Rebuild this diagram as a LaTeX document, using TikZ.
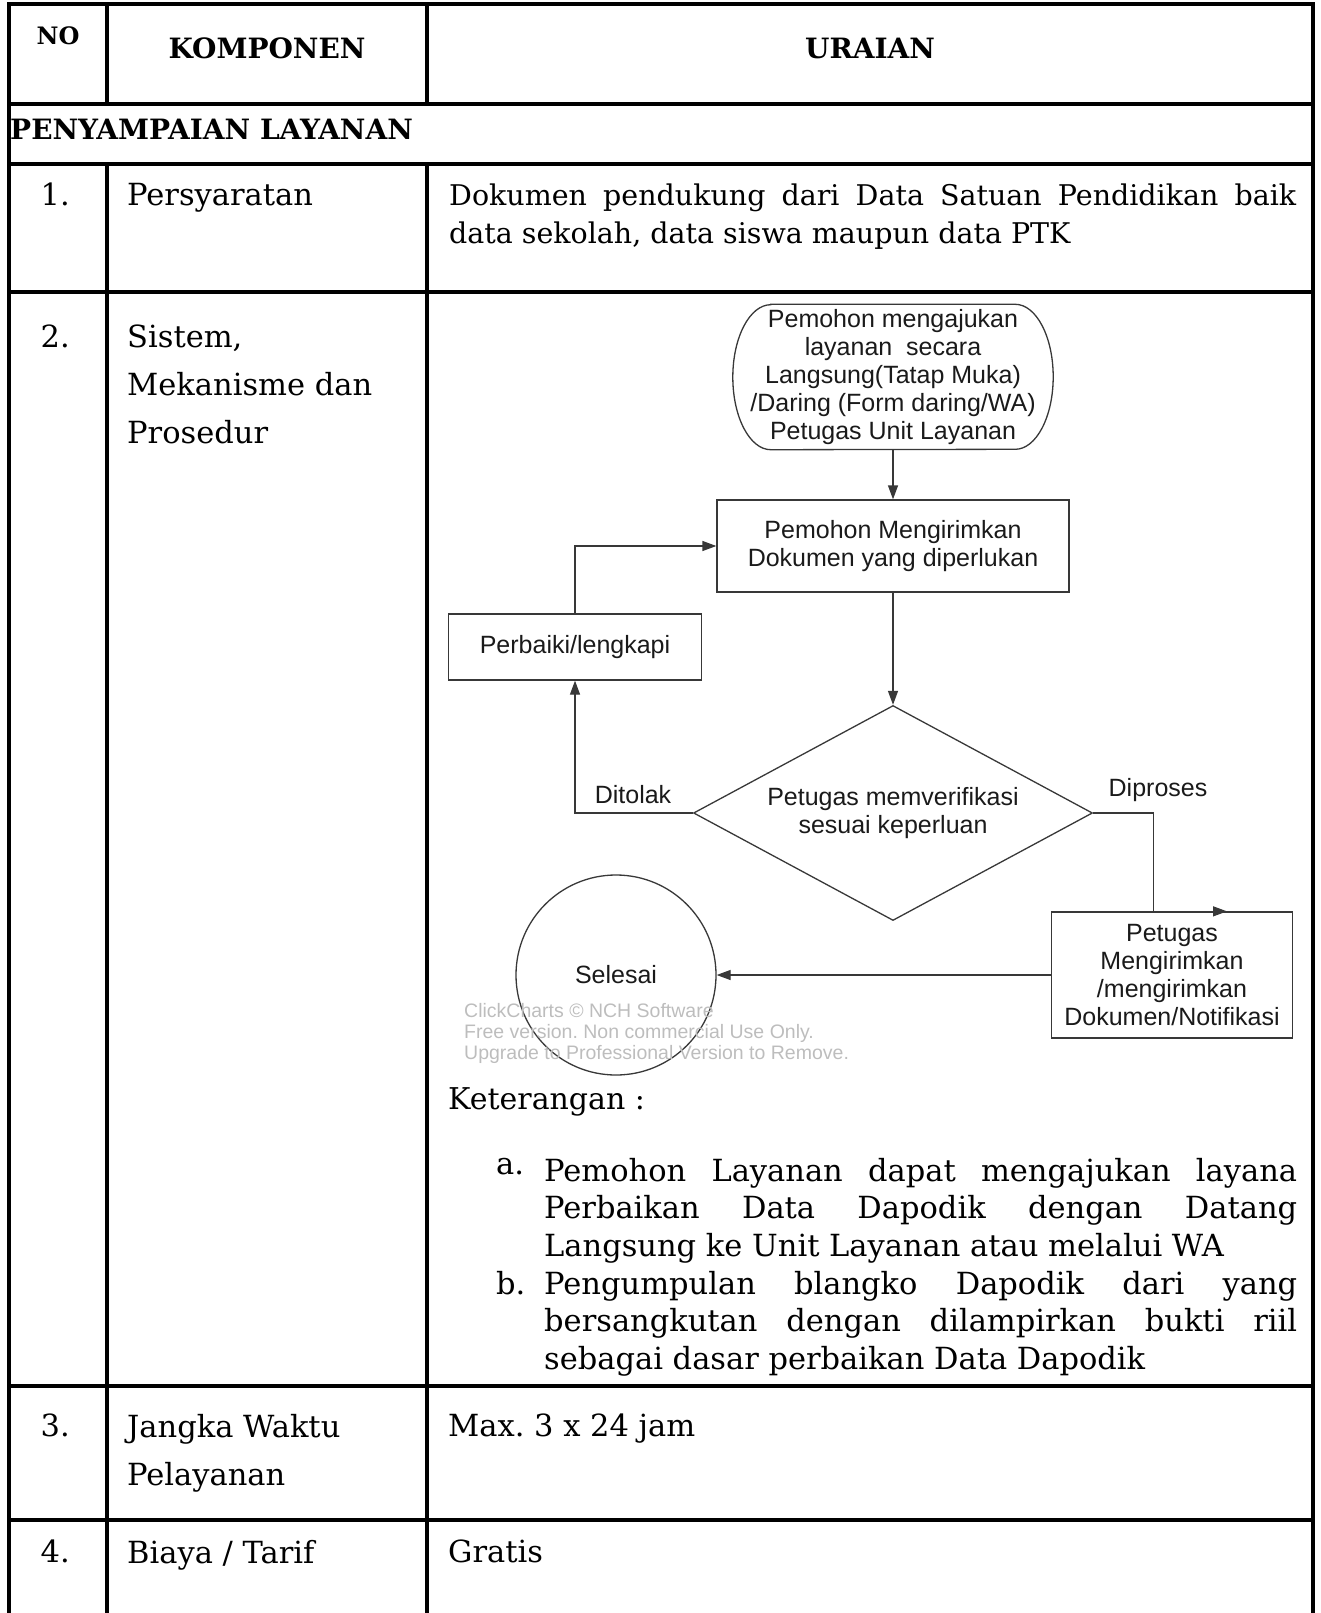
\documentclass[tikz,border=0pt]{standalone}
\usepackage{fontspec}
\setmainfont{DejaVu Serif}
\newfontfamily\chartfont{Liberation Sans}
\usetikzlibrary{positioning,shapes.geometric,arrows.meta}

\definecolor{chartline}{HTML}{383838}
\definecolor{charttext}{HTML}{1A1A1A}
\definecolor{wmgray}{HTML}{BDBDBD}

\newcommand\tabtext{\fontsize{30.5}{38}\selectfont}
\newcommand\tabwide{\fontsize{30.5}{48}\selectfont}
\newcommand\tabdesc{\fontsize{28.5}{38}\selectfont}
\newcommand\tablist{\fontsize{30.5}{37.5}\selectfont}
\newcommand\chtext{\chartfont\fontsize{25}{28}\selectfont}

\tikzset{
        rule/.style={line width=3.2pt, line cap=rect},
        cell/.style={inner sep=0pt, anchor=north west, align=left, font=\tabtext},
        num/.style={inner sep=0pt, anchor=north east, font=\tabtext},
        head/.style={inner sep=0pt, font=\fontsize{28}{34}\selectfont\bfseries},
        flow/.style={draw=chartline, line width=1.3pt},
        box/.style={flow, rectangle, inner sep=0pt, align=center, font=\chtext, text=charttext},
        term/.style={inner sep=0pt, minimum width=320, minimum height=145, align=center, font=\chtext, text=charttext},
        lbl/.style={inner sep=0pt, font=\chtext, text=charttext},
        wmark/.style={inner sep=0pt, anchor=west, align=left, text=wmgray, font=\chartfont\fontsize{19.5}{21}\selectfont}
}

\begin{document}
\frenchspacing
\begin{tikzpicture}[x=1pt, y=-1pt, >={Triangle[length=14pt,width=10pt]}]
        \useasboundingbox (0,0) rectangle (1321,1613);

        \draw[rule] (9,1613) -- (9,4) -- (1313,4) -- (1313,1613);
        \foreach \y in {104,164,292,1386,1520}
                \draw[rule] (9,\y) -- (1313,\y);
        \foreach \x in {107,427} {
                \draw[rule] (\x,4) -- (\x,104);
                \draw[rule] (\x,164) -- (\x,1613);
        }

        \node[head, font=\fontsize{24}{28}\selectfont\bfseries] (no) at (58,36) {NO};
        \node[head] (komp) at (267,48) {KOMPONEN};
        \node[head] (urai) at (870,48) {URAIAN};
        \node[head, anchor=west] (sect) at (10,129) {PENYAMPAIAN LAYANAN};

        \node[num] (n1) at (70,183) {1.};
        \node[cell] (k1) at (127,183) {Persyaratan};
        \node[cell, font=\tabdesc] (u1) at (449,184) {\makebox[847pt][s]{Dokumen pendukung dari Data Satuan Pendidikan baik}\\data sekolah, data siswa maupun data PTK};

        \node[num] (n2) at (70,325) {2.};
        \node[cell, font=\tabwide] (k2) at (127,325) {Sistem,\\Mekanisme dan\\Prosedur};

        \node[term] (ajukan) at (893,377) {Pemohon mengajukan\\layanan~ secara\\Langsung(Tatap Muka)\\/Daring (Form daring/WA)\\Petugas Unit Layanan};
        \draw[flow] ([xshift=38pt]ajukan.north west) -- ([xshift=-38pt]ajukan.north east)
                arc[start angle=90, end angle=-90, x radius=38pt, y radius=72.5pt]
                -- ([xshift=38pt]ajukan.south west)
                arc[start angle=270, end angle=90, x radius=38pt, y radius=72.5pt] -- cycle;
        \node[box, minimum width=352, minimum height=92] (kirim) at (893,546) {Pemohon Mengirimkan\\Dokumen yang diperlukan};
        \node[box, minimum width=253, minimum height=66] (perbaiki) at (575,647) {Perbaiki/lengkapi};
        \node[box, diamond, aspect=1.86, minimum width=399, minimum height=215] (periksa) at (893,813) {Petugas memverifikasi\\sesuai keperluan};
        \node[box, circle, minimum size=200] (selesai) at (616,975) {Selesai};
        \node[box, minimum width=241, minimum height=126] (notif) at (1172,975) {Petugas\\Mengirimkan\\/mengirimkan\\Dokumen/Notifikasi};
        \node[lbl] (tolak) at (633,795) {Ditolak};
        \node[lbl] (proses) at (1158,790) {Diproses};

        \draw[flow, ->] (ajukan) -- (kirim);
        \draw[flow, ->] (kirim) -- (periksa);
        \draw[flow, ->] (periksa.west) -| (perbaiki.south);
        \draw[flow, ->] (perbaiki.north) |- (kirim.west);
        \draw[flow, ->] (periksa.east) -- ++(60,0) |- ([xshift=55pt]notif.north);
        \draw[flow, ->] (notif) -- (selesai);

        \node[wmark] (wm) at (464,1033) {ClickCharts © NCH Software\\Free version. Non commercial Use Only.\\Upgrade to Professional Version to Remove.};

        \node[cell, font=\fontsize{30}{38}\selectfont] (ket) at (448,1087) {Keterangan :};
        \node[cell, font=\tablist] (la) at (496,1158) {a.};
        \node[cell, font=\tablist] (ta) at (544,1158) {\makebox[753pt][s]{Pemohon Layanan dapat mengajukan layana}\\\makebox[753pt][s]{Perbaikan Data Dapodik dengan Datang}\\Langsung ke Unit Layanan atau melalui WA};
        \node[cell, font=\tablist] (lb) at (496,1271) {b.};
        \node[cell, font=\tablist] (tb) at (544,1271) {\makebox[753pt][s]{Pengumpulan blangko Dapodik dari yang}\\\makebox[753pt][s]{bersangkutan dengan dilampirkan bukti riil}\\sebagai dasar perbaikan Data Dapodik};

        \node[num] (n3) at (70,1414) {3.};
        \node[cell, font=\tabwide] (k3) at (127,1414) {Jangka Waktu\\Pelayanan};
        \node[cell] (u3) at (448,1414) {Max. 3 x 24 jam};

        \node[num] (n4) at (70,1540) {4.};
        \node[cell] (k4) at (127,1540) {Biaya / Tarif};
        \node[cell] (u4) at (448,1540) {Gratis};
\end{tikzpicture}
\end{document}
